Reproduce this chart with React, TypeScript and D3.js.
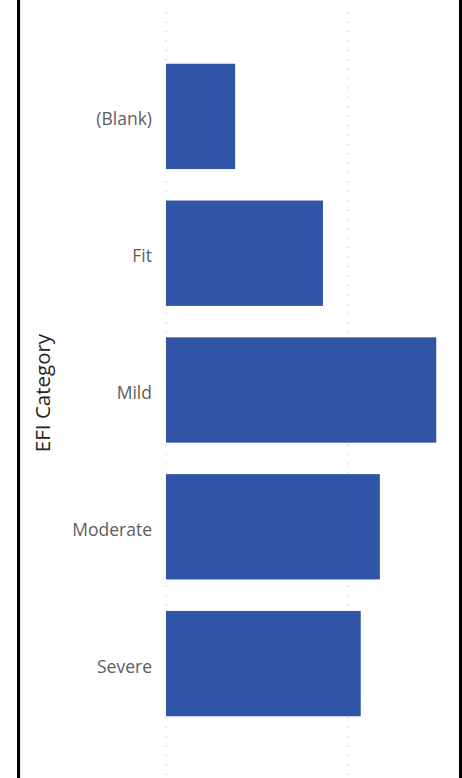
import React from "react";
import * as d3 from "d3";

const categories = ["(Blank)", "Fit", "Mild", "Moderate", "Severe"];
const values = [7.6, 17.25, 29.7, 23.5, 21.4];
const gridTicks = [0, 20];
const axisTitle = "EFI Category";

const W = 462;
const H = 778;

export default function App() {
  const x = d3.scaleLinear().domain([0, 20]).range([166, 348]);
  const y = d3
    .scaleBand<string>()
    .domain(categories)
    .range([48, 732])
    .paddingInner(0.23)
    .paddingOuter(0.115);

  return (
    <svg
      width={W}
      height={H}
      style={{ position: "absolute", left: 0, top: 0, background: "#ffffff" }}
    >
      <rect x={0} y={0} width={W} height={H} fill="#ffffff" />
      <line x1={20.5} x2={20.5} y1={0} y2={H} stroke="#e6e6e6" strokeWidth={1} />
      {gridTicks.map((t) => (
        <line
          key={t}
          x1={x(t)}
          x2={x(t)}
          y1={12}
          y2={H}
          stroke="#c8c6c4"
          strokeWidth={1}
          strokeDasharray="1.5 7.9"
        />
      ))}
      {categories.map((c, i) => (
        <g key={c}>
          <rect
            x={x(0)}
            y={y(c)}
            width={x(values[i]) - x(0)}
            height={y.bandwidth()}
            fill="#3155a6"
          />
          <text
            x={152}
            y={(y(c) as number) + y.bandwidth() / 2 + 2}
            textAnchor="end"
            dominantBaseline="central"
            fontFamily="'Open Sans', 'Noto Sans', sans-serif"
            fontSize={17.5}
            fill="#605e5c"
          >
            {c}
          </text>
        </g>
      ))}
      <text
        transform={`translate(50, 393) rotate(-90)`}
        textAnchor="middle"
        fontFamily="'Open Sans', 'Noto Sans', sans-serif"
        fontSize={20.5}
        fill="#252423"
      >
        {axisTitle}
      </text>
      <rect x={17} y={0} width={3} height={H} fill="#000000" />
      <rect x={459} y={0} width={3} height={H} fill="#000000" />
    </svg>
  );
}
